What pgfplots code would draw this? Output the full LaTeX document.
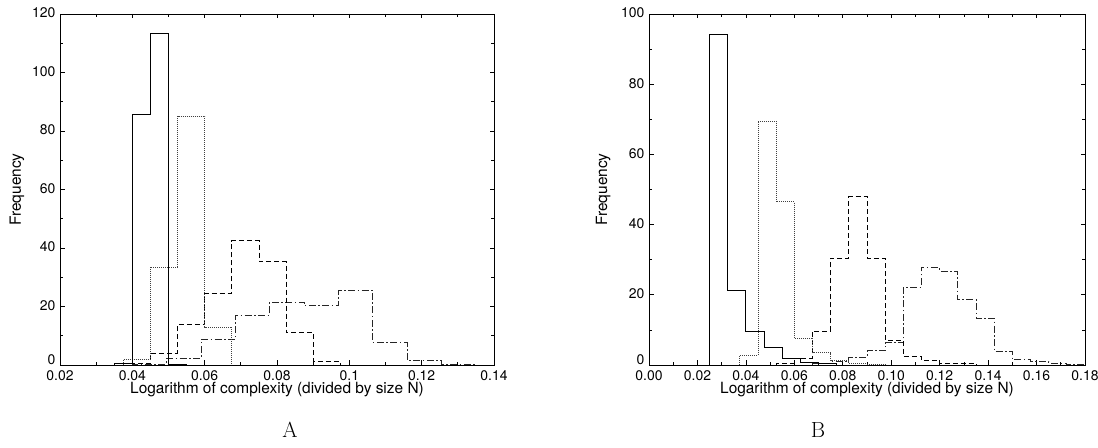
\documentclass[border=0pt]{standalone}
\usepackage{pgfplots}
\pgfplotsset{compat=1.18}
\usepackage{fontspec}
\setsansfont{TeX Gyre Heros}
\begin{document}
\begin{tikzpicture}
\useasboundingbox (0,0) rectangle (1098bp,448bp);
\pgfplotsset{
  hbase/.style={axis line style={black, line width=0.8bp},
    scale only axis, height=351bp, ymin=0,
    tick align=inside, xtick pos=both, ytick pos=both,
    major tick length=4.5bp, minor tick length=3bp,
    every tick/.style={black, line width=0.7bp},
    minor x tick num=1, minor y tick num=1,
    /pgf/number format/assume math mode=true,
    tick label style={font=\sffamily\fontsize{14}{14}\selectfont},
    label style={font=\sffamily\fontsize{15.5}{15.5}\selectfont},
    xlabel={Logarithm of complexity (divided by size N)},
    ylabel={Frequency},
    xlabel style={at={(axis description cs:0.5,-0.07)}, anchor=center},
    yticklabel style={xshift=-1bp, yshift=1bp},
    xticklabel style={yshift=-2bp},
    clip=false},
  hs/.style={const plot, black, line width=0.9bp, mark=none},
  hdot/.style={const plot, black!75, line width=0.8bp, dash pattern=on 1bp off 1bp, mark=none},
  hdash/.style={const plot, black, line width=0.8bp, dash pattern=on 5bp off 3bp, mark=none},
  hdd/.style={const plot, black!85, line width=0.8bp, dash pattern=on 7bp off 2.5bp on 1.5bp off 2.5bp, mark=none},
}
\begin{axis}[hbase, at={(60bp,83bp)}, anchor=south west, width=434bp,
  xmin=0.02, xmax=0.14, ymax=120,
  xtick={0.02,0.04,0.06,0.08,0.1,0.12,0.14},
  xticklabels={0.02,0.04,0.06,0.08,0.1,0.12,0.14},
  ytick={0,20,40,60,80,100,120},
  yticklabels={\raisebox{4bp}[\height][\depth]{0},20,40,60,80,100,120},
  ylabel style={at={(axis description cs:-0.099,0.5)}, anchor=center, rotate=0}]
\addplot[hdd] coordinates {(0.04,0)(0.04,0.3)(0.0495,2.3)(0.059,8.8)(0.0685,17)(0.078,21.5)(0.0875,20.3)(0.097,25.4)(0.1065,7.6)(0.116,1.6)(0.1255,0.3)(0.135,0)};
\addplot[hdash] coordinates {(0.0375,0)(0.0375,0.4)(0.045,4.1)(0.0525,13.8)(0.06,24.5)(0.0675,42.5)(0.075,35.4)(0.0825,11.2)(0.09,1.1)(0.0975,0)};
\addplot[hdot] coordinates {(0.0375,0)(0.0375,1.9)(0.045,33.5)(0.0525,85)(0.06,13)(0.0675,0)};
\addplot[hs] coordinates {(0.035,0)(0.035,0.5)(0.04,85.5)(0.045,113.5)(0.05,0.3)(0.055,0)};
\end{axis}
\begin{axis}[hbase, at={(649bp,83bp)}, anchor=south west, width=436bp,
  xmin=0, xmax=0.18, ymax=100,
  xtick={0,0.02,0.04,0.06,0.08,0.1,0.12,0.14,0.16,0.18},
  xticklabels={0.00,0.02,0.04,0.06,0.08,0.10,0.12,0.14,0.16,0.18},
  ytick={0,20,40,60,80,100},
  yticklabels={\raisebox{4bp}[\height][\depth]{0},20,40,60,80,100},
  ylabel style={at={(axis description cs:-0.105,0.5)}, anchor=center, rotate=0}]
\addplot[hdd] coordinates {(0.0675,0)(0.0675,0.4)(0.075,1)(0.0825,2.1)(0.09,4.1)(0.0975,6.4)(0.105,22.2)(0.1125,27.8)(0.12,26.8)(0.1275,18.7)(0.135,13.4)(0.1425,3.9)(0.15,1.6)(0.1575,0.9)(0.165,0.5)(0.1725,0.3)(0.18,0)};
\addplot[hdash] coordinates {(0.0525,0)(0.0525,0.5)(0.06,2)(0.0675,9.6)(0.075,30.5)(0.0825,48)(0.09,30.4)(0.0975,7.1)(0.105,2.5)(0.1125,1.3)(0.12,0.5)(0.1275,0.4)(0.135,0)};
\addplot[hdot] coordinates {(0.0375,0)(0.0375,2.8)(0.045,69.5)(0.0525,46.5)(0.06,7.7)(0.0675,3.5)(0.075,1.2)(0.0825,0.4)(0.09,0.2)(0.0975,0)};
\addplot[hs] coordinates {(0.025,0)(0.025,94.2)(0.0325,21.2)(0.04,9.7)(0.0475,5)(0.055,1.9)(0.0625,0.7)(0.07,0.3)(0.0775,0)};
\end{axis}
\node[font=\fontsize{22}{22}\selectfont] at (290bp,18bp) {A};
\node[font=\fontsize{22}{22}\selectfont] at (818bp,18bp) {B};
\end{tikzpicture}
\end{document}
